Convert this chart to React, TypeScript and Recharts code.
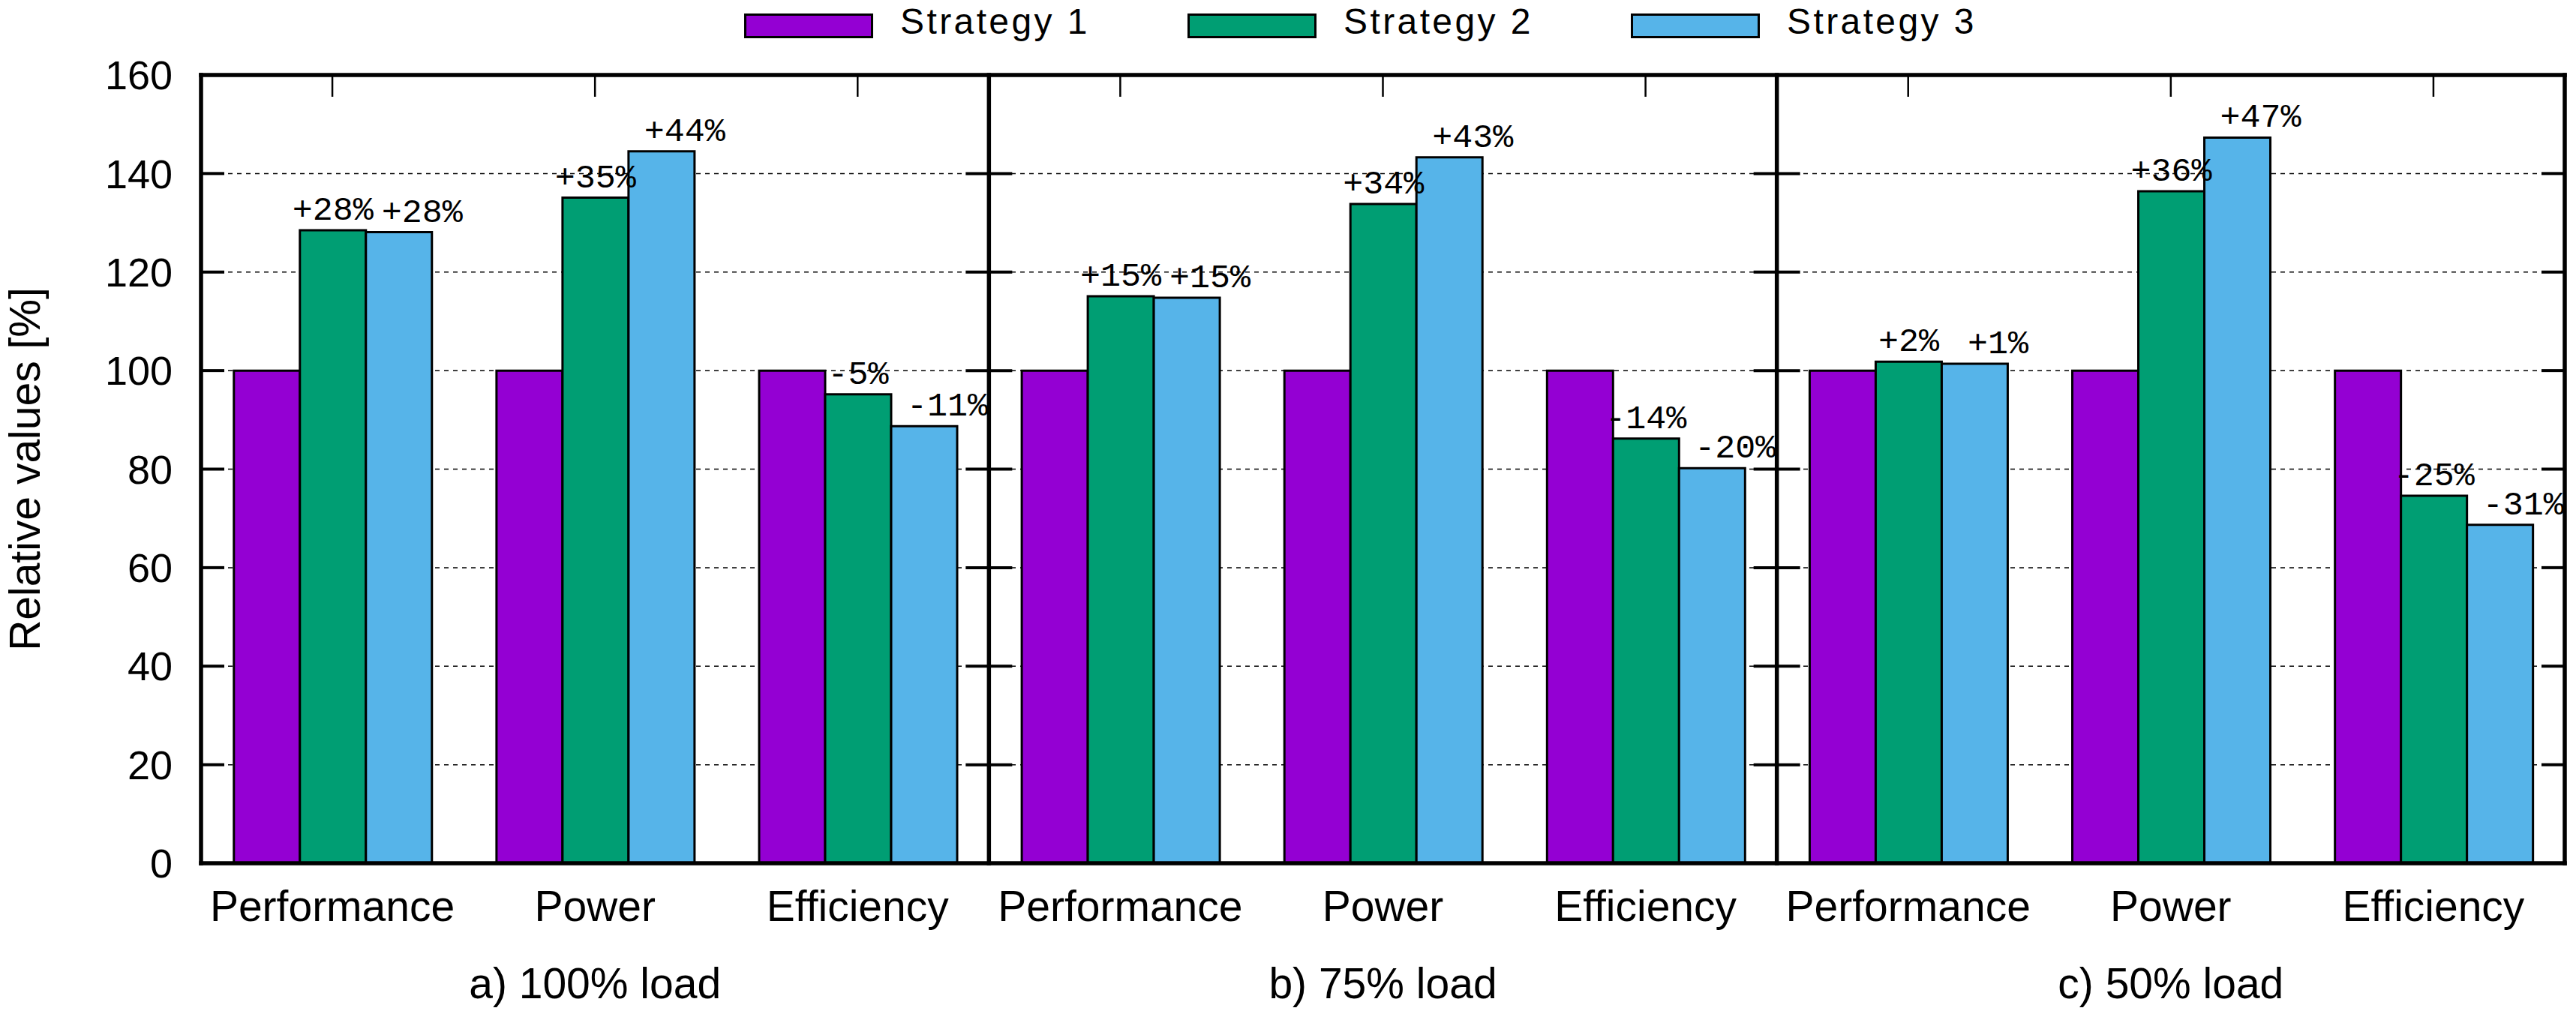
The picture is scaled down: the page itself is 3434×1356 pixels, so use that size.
import React from "react";
import {
  BarChart, Bar, XAxis, YAxis, CartesianGrid, ReferenceLine, LabelList, Label,
} from "recharts";

const categories = ["Performance", "Power", "Efficiency"];
const panels = ["a) 100% load", "b) 75% load", "c) 50% load"];
const seriesNames = ["Strategy 1", "Strategy 2", "Strategy 3"];
const colors = ["#9400D3", "#009E73", "#56B4E9"];

const strategy1 = [100, 100, 100, 100, 100, 100, 100, 100, 100];
const strategy2 = [128.5, 135.1, 95.2, 115.1, 133.8, 86.2, 101.8, 136.4, 74.6];
const strategy3 = [128.1, 144.5, 88.7, 114.8, 143.3, 80.2, 101.4, 147.3, 68.7];
const labels2 = ["+28%", "+35%", "-5%", "+15%", "+34%", "-14%", "+2%", "+36%", "-25%"];
const labels3 = ["+28%", "+44%", "-11%", "+15%", "+43%", "-20%", "+1%", "+47%", "-31%"];
const yTicks = [0, 20, 40, 60, 80, 100, 120, 140, 160];

const W = 3434;
const H = 1356;
const sans = "'Liberation Sans', Arial, sans-serif";
const mono = "'Liberation Mono', 'DejaVu Sans Mono', monospace";

const data = strategy1.map((s1, i) => ({
  id: `${Math.floor(i / 3)}-${categories[i % 3]}`,
  cat: categories[i % 3],
  panel: panels[Math.floor(i / 3)],
  s1,
  s2: strategy2[i],
  s3: strategy3[i],
  l2: labels2[i],
  l3: labels3[i],
}));

const yMax = yTicks[yTicks.length - 1];

// vertical frame line (border / panel divider) with inward ticks
const frameLine = (toLeft: boolean, toRight: boolean) => (p: any) => {
  const x = p.x1;
  const yTop = Math.min(p.y1, p.y2);
  const yBot = Math.max(p.y1, p.y2);
  return (
    <g>
      <line x1={x} x2={x} y1={yTop - 2.75} y2={yBot + 2.75} stroke="#000" strokeWidth={5.5} />
      {yTicks.slice(1, -1).map((t) => {
        const y = yBot - ((yBot - yTop) * t) / yMax;
        return (
          <line key={t} x1={toLeft ? x - 31 : x} x2={toRight ? x + 31 : x} y1={y} y2={y}
            stroke="#000" strokeWidth={4} />
        );
      })}
    </g>
  );
};

const hLine = (p: any) => (
  <line x1={Math.min(p.x1, p.x2) - 2.75} x2={Math.max(p.x1, p.x2) + 2.75} y1={p.y1} y2={p.y2}
    stroke="#000" strokeWidth={5.5} />
);

const topTick = (p: any) => {
  const yTop = Math.min(p.y1, p.y2);
  return <line x1={p.x1} x2={p.x1} y1={yTop} y2={yTop + 29} stroke="#000" strokeWidth={2.5} />;
};

const barLabel = (dx: number) => (p: any) => {
  const { x, y, width, value } = p;
  return (
    <text x={Number(x) + Number(width) / 2 + dx} y={Number(y) - 14} textAnchor="middle"
      fontFamily={mono} fontSize={45} fill="#000">
      {value}
    </text>
  );
};

const XTick = (p: any) => {
  const { x, y, index } = p;
  const d = data[index];
  return (
    <g>
      <text x={x} y={y + 77} textAnchor="middle" fontFamily={sans} fontSize={57} fill="#000">
        {d.cat}
      </text>
      {index % 3 === 1 && (
        <text x={x} y={y + 180} textAnchor="middle" fontFamily={sans} fontSize={57} fill="#000">
          {d.panel}
        </text>
      )}
    </g>
  );
};

const YLabel = (p: any) => {
  const vb = p.viewBox || {};
  const cx = 53;
  const cy = vb.y + vb.height / 2;
  return (
    <text x={cx} y={cy} transform={`rotate(-90 ${cx} ${cy})`} textAnchor="middle"
      fontFamily={sans} fontSize={57} fill="#000">
      Relative values [%]
    </text>
  );
};

function LegendBar() {
  return (
    <svg width={W} height={90} style={{ position: "absolute", left: 0, top: 0 }}>
      {seriesNames.map((n, i) => (
        <g key={n}>
          <rect x={993.5 + i * 591} y={19.5} width={169} height={30} fill={colors[i]}
            stroke="#000" strokeWidth={3} />
          <text x={1200 + i * 591} y={45} fontFamily={sans} fontSize={48} letterSpacing={3.4}
            fill="#000">
            {n}
          </text>
        </g>
      ))}
    </svg>
  );
}

export default function App() {
  return (
    <div style={{ position: "absolute", left: 0, top: 0, width: W, height: H, background: "#fff" }}>
      <BarChart width={W} height={H} data={data} barCategoryGap="12.5%" barGap={0}
        margin={{ top: 100, right: 15, bottom: 0, left: 0 }}>
        <CartesianGrid vertical={false} stroke="#000" strokeWidth={1.5} strokeDasharray="6 6" />
        <XAxis dataKey="id" interval={0} height={205} axisLine={false} tickLine={false}
          tickSize={0} tickMargin={0} tick={<XTick />} />
        <YAxis domain={[0, yMax]} ticks={yTicks} width={268} axisLine={false} tickLine={false}
          tickSize={0} tickMargin={38} allowDataOverflow
          tick={{ fontSize: 54, fill: "#000", fontFamily: sans }}
          label={<Label content={<YLabel />} />} />
        <Bar dataKey="s1" fill={colors[0]} stroke="#000" strokeWidth={3} isAnimationActive={false} />
        <Bar dataKey="s2" fill={colors[1]} stroke="#000" strokeWidth={3} isAnimationActive={false}>
          <LabelList dataKey="l2" content={barLabel(0)} />
        </Bar>
        <Bar dataKey="s3" fill={colors[2]} stroke="#000" strokeWidth={3} isAnimationActive={false}>
          <LabelList dataKey="l3" content={barLabel(31)} />
        </Bar>
        {data.map((d) => (
          <ReferenceLine key={`t-${d.id}`} x={d.id} position="middle" shape={topTick} />
        ))}
        <ReferenceLine y={0} shape={hLine} />
        <ReferenceLine y={yMax} shape={hLine} />
        <ReferenceLine x={data[0].id} position="start" shape={frameLine(false, true)} />
        <ReferenceLine x={data[2].id} position="end" shape={frameLine(true, true)} />
        <ReferenceLine x={data[5].id} position="end" shape={frameLine(true, true)} />
        <ReferenceLine x={data[8].id} position="end" shape={frameLine(true, false)} />
      </BarChart>
      <LegendBar />
    </div>
  );
}
